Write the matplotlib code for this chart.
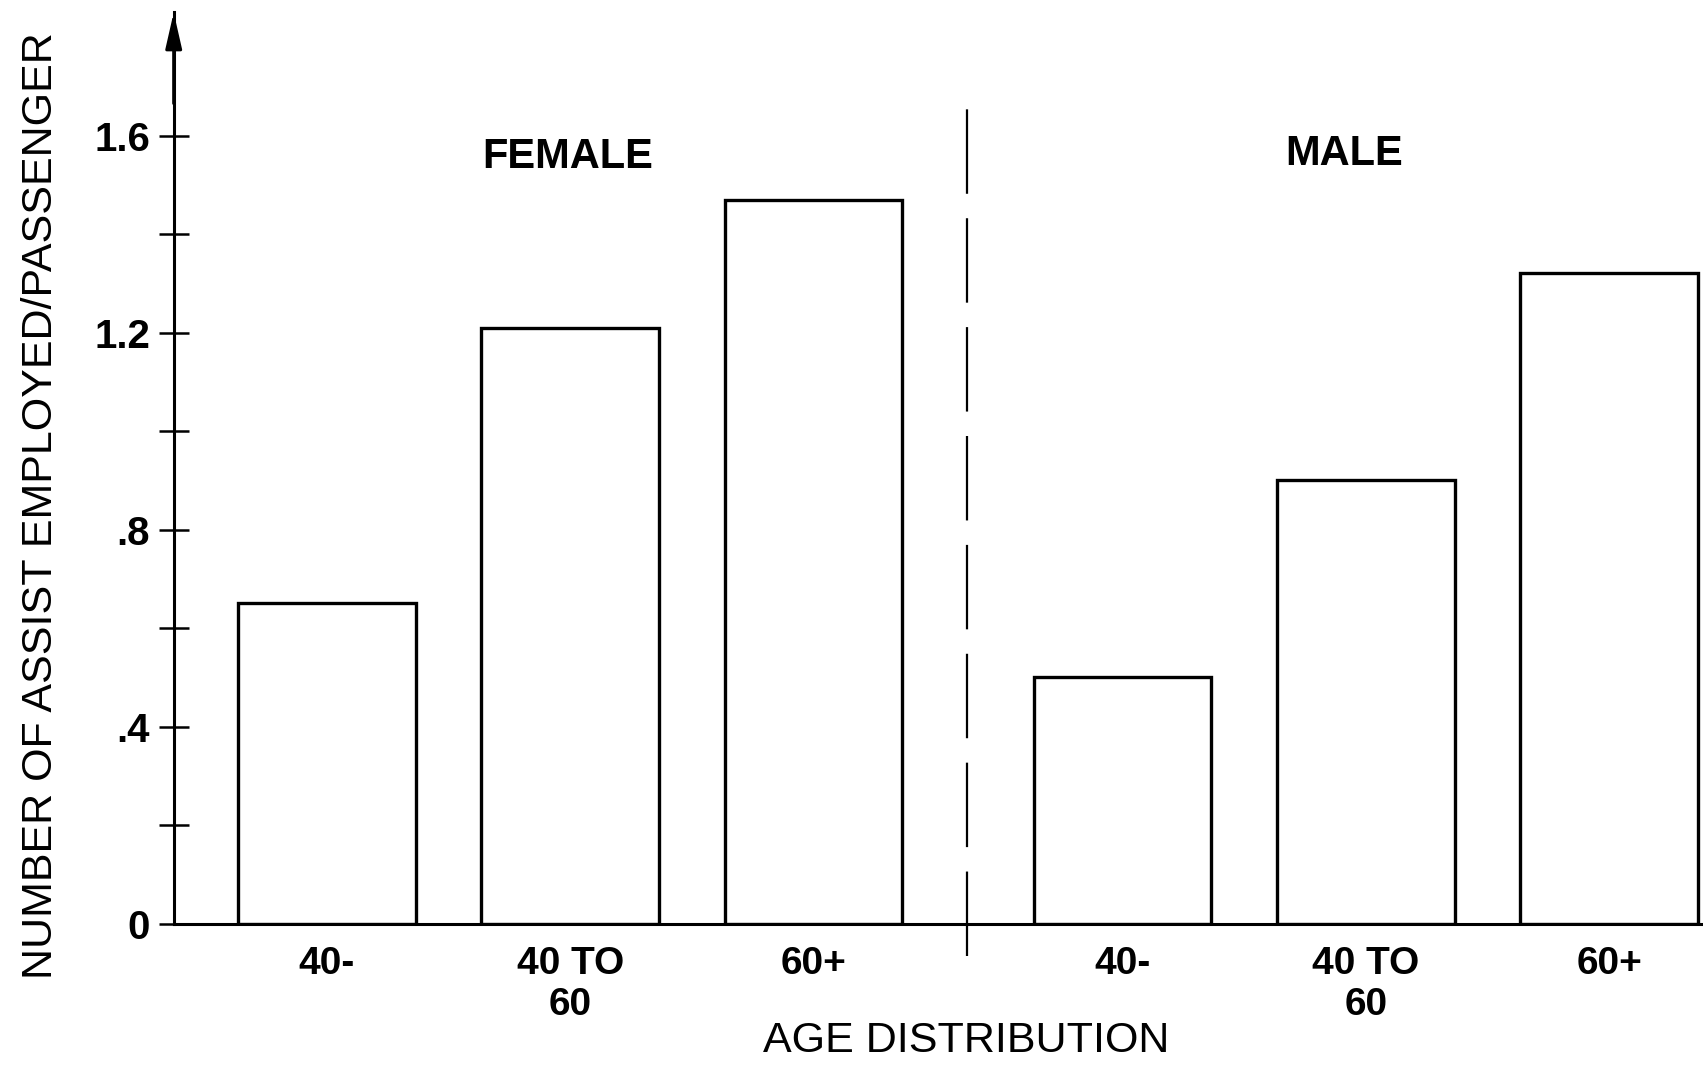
import matplotlib
matplotlib.use("Agg")
import matplotlib.pyplot as plt

plt.rcParams['font.family'] = ['Liberation Sans', 'DejaVu Sans']

# values
groups = ["FEMALE", "MALE"]
age_labels = ["40-", "40 TO\n60", "60+", "40-", "40 TO\n60", "60+"]
female_vals = [0.65, 1.21, 1.47]
male_vals = [0.50, 0.90, 1.32]
yticks = [0, 0.4, 0.8, 1.2, 1.6]
ytick_labels = ["0", ".4", ".8", "1.2", "1.6"]
yticks_minor = [0.2, 0.6, 1.0, 1.4]

positions = [0, 1, 2, 3.27, 4.27, 5.27]
values = female_vals + male_vals

fig = plt.figure(figsize=(17.03, 10.67), dpi=100)
ax = fig.add_axes([0.102, 0.1344, 0.898, 0.854])

ax.bar(positions, values, width=0.73, color="white", edgecolor="black",
       linewidth=2.4, zorder=2)

ax.set_xlim(-0.63, 5.656)
ax.set_ylim(0, 1.85)

ax.spines['top'].set_visible(False)
ax.spines['right'].set_visible(False)
ax.spines['left'].set_linewidth(2.2)
ax.spines['bottom'].set_linewidth(2.2)

ax.set_yticks(yticks)
ax.set_yticklabels(ytick_labels, fontweight='bold')
ax.set_yticks(yticks_minor, minor=True)
ax.tick_params(axis='y', which='both', direction='inout', length=22, width=1.8,
               labelsize=29, pad=6)
ax.set_xticks(positions)
ax.set_xticklabels(age_labels, fontweight='bold')
ax.tick_params(axis='x', length=0, labelsize=28, pad=16)

# arrow at top of y axis
ax.annotate('', xy=(0, 1.0), xytext=(0, 0.9), xycoords='axes fraction',
            arrowprops=dict(arrowstyle='-|>,head_length=2.2,head_width=0.5',
                            color='black', lw=2.2, shrinkA=0, shrinkB=0))

# dashed divider between the groups
ax.plot([2.63, 2.63], [-0.066, 1.662], color='black', lw=1.6,
        dashes=(38, 11), clip_on=False)

ax.text(0.99, 1.556, groups[0], fontsize=30, fontweight='bold',
        ha='center', va='center')
ax.text(4.18, 1.563, groups[1], fontsize=30, fontweight='bold',
        ha='center', va='center')

fig.text(0.5676, 0.024, "AGE DISTRIBUTION", fontsize=31, ha='center', va='center')
fig.text(0.024, 0.526, "NUMBER OF ASSIST EMPLOYED/PASSENGER", fontsize=31,
         rotation=90, ha='center', va='center')

fig.savefig("out.png", dpi=100)
